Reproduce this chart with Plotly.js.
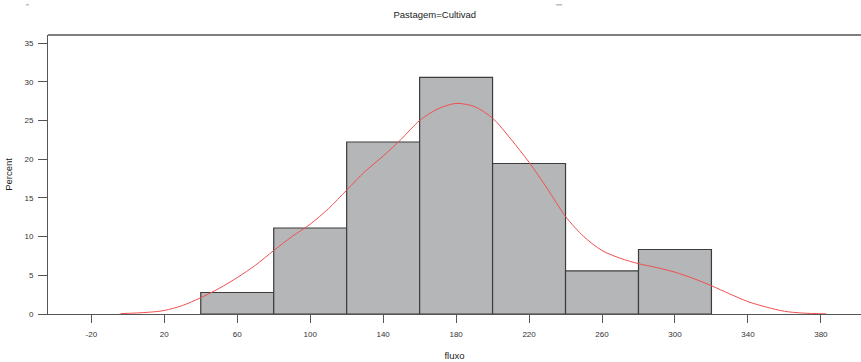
<!DOCTYPE html>
<html>
<head>
<meta charset="utf-8">
<script src="https://cdn.plot.ly/plotly-3.0.1.min.js"></script>
<style>html,body{margin:0;padding:0;background:#fff;}#chart{width:861px;height:362px;}</style>
</head>
<body>
<div id="chart"></div>
<script>
// Histogram bins (left edges, width 40) and percentages
const binLeft = [40, 80, 120, 160, 200, 240, 280];
const binWidth = 40;
const percent = [2.78, 11.11, 22.22, 30.56, 19.44, 5.56, 8.33];

// Density curve, scaled to percent
const curveX = [-4, 10, 20, 30, 40, 50, 60, 70, 80, 90, 100, 110, 120, 130, 140, 150, 160, 170, 180, 190, 200, 210, 220, 230, 240, 250, 260, 270, 280, 290, 300, 310, 320, 330, 340, 350, 360, 370, 383];
const curveY = [0.05, 0.2, 0.45, 1.1, 2.1, 3.3, 4.7, 6.3, 8.2, 10.0, 11.6, 13.6, 16.0, 18.4, 20.4, 22.6, 25.0, 26.5, 27.2, 26.8, 25.3, 22.6, 19.6, 16.2, 12.6, 10.0, 8.2, 7.2, 6.5, 6.0, 5.4, 4.6, 3.65, 2.6, 1.6, 0.9, 0.35, 0.12, 0.02];

const xTicks = [-20, 20, 60, 100, 140, 180, 220, 260, 300, 340, 380];
const yTicks = [0, 5, 10, 15, 20, 25, 30, 35];

const axisColor = '#555555';
const fontFam = 'Liberation Sans, Arial, sans-serif';

const traces = [
  {
    type: 'bar',
    x: binLeft,
    y: percent,
    width: binWidth,
    offset: 0,
    marker: {color: '#b5b6b8', line: {color: '#3c3c3c', width: 1.2}},
    hoverinfo: 'skip',
    showlegend: false
  },
  {
    type: 'scatter',
    mode: 'lines',
    x: curveX,
    y: curveY,
    line: {color: 'rgb(240,80,80)', width: 1, shape: 'spline', smoothing: 0.8},
    hoverinfo: 'skip',
    showlegend: false
  }
];

const layout = {
  width: 861,
  height: 362,
  margin: {l: 48, r: 0, t: 35, b: 48},
  paper_bgcolor: '#ffffff',
  plot_bgcolor: '#ffffff',
  font: {family: fontFam, color: '#333333'},
  title: {
    text: 'Pastagem=Cultivad',
    x: 0.505, xref: 'container', xanchor: 'center',
    y: 0.96, yref: 'container', yanchor: 'middle',
    font: {size: 9.5, color: '#222222', family: fontFam}
  },
  xaxis: {
    range: [-43.75, 402],
    tickvals: xTicks,
    ticktext: xTicks.map(String),
    ticks: 'outside', ticklen: 8, tickwidth: 1, tickcolor: axisColor,
    ticklabelstandoff: 4,
    showline: true, linecolor: axisColor, linewidth: 1, mirror: false,
    showgrid: false, zeroline: false,
    tickfont: {size: 8, color: '#333333', family: fontFam},
    title: {text: 'fluxo', font: {size: 9.5, color: '#222222', family: fontFam}, standoff: 14}
  },
  yaxis: {
    range: [0, 36.04],
    tickvals: yTicks,
    ticktext: yTicks.map(String),
    ticks: 'outside', ticklen: 9, tickwidth: 1, tickcolor: axisColor,
    ticklabelstandoff: 3,
    showline: true, linecolor: axisColor, linewidth: 1,
    showgrid: false, zeroline: false,
    tickfont: {size: 8, color: '#333333', family: fontFam},
    title: {text: 'Percent', font: {size: 9.5, color: '#222222', family: fontFam}, standoff: 10}
  },
  shapes: [
    {type: 'line', xref: 'paper', yref: 'paper', x0: 0, x1: 1, y0: 1, y1: 1, line: {color: axisColor, width: 1.3}},
    {type: 'line', xref: 'paper', yref: 'paper', x0: -0.027, x1: -0.0235, y0: 1.108, y1: 1.108, line: {color: '#999999', width: 1}},
    {type: 'line', xref: 'paper', yref: 'paper', x0: 0.625, x1: 0.6325, y0: 1.108, y1: 1.108, line: {color: '#999999', width: 1}}
  ],
  showlegend: false
};

Plotly.newPlot('chart', traces, layout, {displayModeBar: false, staticPlot: true});
</script>
</body>
</html>
